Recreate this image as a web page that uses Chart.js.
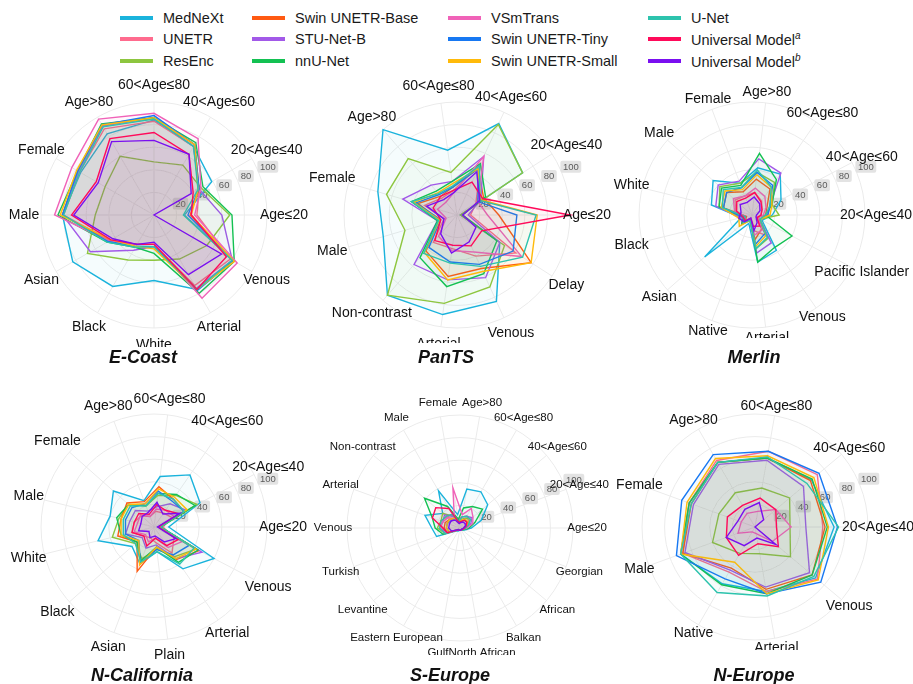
<!DOCTYPE html>
<html>
<head>
<meta charset="utf-8">
<script src="https://cdn.jsdelivr.net/npm/chart.js@4.4.0/dist/chart.umd.min.js"></script>
<style>
  body { margin: 0; background: #fff; font-family: "Liberation Sans", Arial, sans-serif; }
  #page { position: relative; width: 913px; height: 684px; overflow: hidden; }
  .panel { position: absolute; }
  .title { position: absolute; font-weight: bold; font-style: italic; font-size: 18px; color: #111;
           transform: translate(-50%, -50%); white-space: nowrap; }
  .leg { position: absolute; font-size: 14.5px; color: #1a1a1a; white-space: nowrap; transform: translateY(-50%); }
  .leg sup { font-size: 10px; font-style: italic; }
  .sw { position: absolute; width: 33px; height: 4px; transform: translateY(-50%); }
</style>
</head>
<body>
<div id="page"></div>
<script>
const MODELS = ["MedNeXt", "UNETR", "ResEnc", "Swin UNETR-Base", "STU-Net-B", "nnU-Net",
  "VSmTrans", "Swin UNETR-Tiny", "Swin UNETR-Small", "U-Net", "Universal Model", "Universal Model"];
const MODEL_SUP = ["", "", "", "", "", "", "", "", "", "", "a", "b"];
const COLORS = ["#1AB3DC", "#FF6B8E", "#8DC63F", "#FF5A12", "#A259E8", "#13C152",
  "#F062B8", "#1778F2", "#FFBA0A", "#2DC3AD", "#FF0A5A", "#7A0FF0"];
const TICKS = [20, 40, 60, 80, 100];

// axes listed counter-clockwise starting at 3 o'clock; value rows follow MODELS order
const ECOAST_AXES = ["Age≤20", "20<Age≤40", "40<Age≤60", "60<Age≤80", "Age>80", "Female", "Male",
  "Asian", "Black", "White", "Arterial", "Venous"];
const ECOAST = [
  [27, 59, 70, 84, 83, 75, 81, 83, 73, 58, 76, 80],
  [38, 46, 70, 83, 88, 76, 80, 45, 30, 26, 72, 78],
  [67, 48, 51, 47, 60, 50, 52, 68, 46, 40, 45, 54],
  [32, 46, 72, 86, 92, 78, 81, 46, 30, 26, 76, 81],
  [60, 46, 70, 86, 91, 77, 81, 65, 36, 28, 75, 80],
  [69, 50, 74, 86, 93, 78, 85, 48, 33, 34, 80, 82],
  [36, 48, 78, 90, 98, 84, 88, 46, 30, 26, 85, 85],
  [30, 46, 72, 88, 92, 78, 81, 47, 32, 28, 77, 81],
  [33, 45, 72, 86, 92, 79, 83, 44, 32, 30, 76, 82],
  [26, 45, 70, 85, 90, 76, 80, 48, 33, 28, 76, 80],
  [33, 40, 62, 73, 78, 59, 73, 44, 30, 26, 76, 74],
  [0, 38, 62, 66, 75, 57, 71, 42, 30, 24, 61, 69]
];

const PANTS_AXES = ["Age≤20", "20<Age≤40", "40<Age≤60", "60<Age≤80", "Age>80", "Female", "Male",
  "Non-contrast", "Arterial", "Venous", "Delay"];
const PANTS = [
  [3, 69, 89, 58, 100, 73, 68, 94, 89, 84, 45],
  [12, 20, 50, 22, 20, 30, 12, 32, 30, 40, 62],
  [3, 69, 88, 38, 66, 65, 48, 94, 79, 70, 50],
  [37, 28, 45, 25, 22, 36, 16, 42, 55, 52, 78],
  [10, 25, 57, 30, 35, 50, 18, 58, 58, 61, 45],
  [5, 30, 50, 30, 28, 42, 18, 50, 64, 57, 42],
  [27, 22, 57, 20, 15, 18, 10, 25, 32, 36, 68],
  [53, 22, 45, 25, 24, 38, 15, 38, 42, 48, 59],
  [71, 25, 45, 28, 26, 40, 16, 44, 58, 55, 78],
  [70, 24, 48, 26, 25, 42, 17, 45, 43, 50, 69],
  [100, 27, 32, 22, 22, 22, 15, 30, 27, 30, 26],
  [5, 24, 42, 20, 18, 28, 12, 22, 34, 26, 20]
];

const MERLIN_AXES = ["20<Age≤40", "40<Age≤60", "60<Age≤80", "Age>80", "Female", "Male", "White",
  "Black", "Asian", "Native", "Arterial", "Venous", "Pacific Islander"];
const MERLIN = [
  [18, 29, 44, 42, 30, 46, 37, 10, 56, 8, 42, 38, 10],
  [8, 10, 15, 20, 18, 20, 15, 6, 10, 4, 14, 22, 6],
  [24, 20, 35, 38, 30, 38, 30, 6, 12, 5, 30, 25, 8],
  [12, 15, 28, 32, 22, 30, 26, 5, 8, 4, 22, 15, 5],
  [14, 18, 45, 50, 32, 40, 33, 10, 12, 5, 34, 30, 8],
  [12, 20, 38, 55, 28, 36, 30, 8, 12, 4, 42, 35, 40],
  [10, 14, 20, 24, 18, 22, 16, 6, 10, 4, 18, 16, 6],
  [14, 18, 32, 38, 26, 30, 26, 8, 10, 5, 26, 20, 8],
  [16, 20, 30, 36, 24, 32, 28, 12, 15, 5, 28, 22, 8],
  [12, 18, 30, 40, 26, 34, 27, 6, 10, 5, 30, 24, 8],
  [8, 10, 14, 20, 16, 18, 14, 8, 8, 3, 10, 12, 5],
  [4, 8, 12, 16, 12, 14, 10, 12, 9, 3, 14, 8, 4]
];

const NCAL_AXES = ["Age≤20", "20<Age≤40", "40<Age≤60", "60<Age≤80", "Age>80", "Female", "Male",
  "White", "Black", "Asian", "Plain", "Arterial", "Venous"];
const NCAL = [
  [13, 46, 56, 45, 25, 48, 40, 51, 26, 35, 22, 45, 60],
  [8, 18, 15, 14, 10, 15, 18, 20, 12, 10, 14, 28, 20],
  [6, 43, 34, 28, 20, 30, 32, 38, 22, 30, 20, 32, 42],
  [5, 30, 30, 36, 24, 32, 30, 33, 20, 42, 18, 35, 45],
  [5, 32, 25, 18, 15, 22, 22, 26, 14, 20, 16, 34, 48],
  [6, 41, 35, 30, 20, 30, 34, 30, 20, 32, 18, 38, 44],
  [4, 20, 18, 16, 10, 16, 15, 18, 10, 14, 10, 22, 28],
  [5, 30, 28, 32, 22, 26, 26, 26, 18, 34, 20, 30, 35],
  [5, 33, 32, 34, 22, 30, 30, 30, 18, 36, 18, 34, 42],
  [6, 30, 30, 30, 20, 28, 28, 28, 22, 33, 22, 40, 40],
  [4, 25, 18, 20, 12, 18, 18, 20, 12, 18, 10, 20, 24],
  [3, 26, 14, 22, 14, 14, 12, 14, 6, 10, 8, 16, 22]
];

const SEUR_AXES = ["Age≤20", "20<Age≤40", "40<Age≤60", "60<Age≤80", "Age>80", "Female", "Male",
  "Non-contrast", "Arterial", "Venous", "Turkish", "Levantine", "Eastern European", "Gulf",
  "North African", "Balkan", "African", "Georgian"];
const SEUR = [
  [10, 20, 32, 37, 35, 12, 38, 20, 33, 25, 22, 4, 3, 2, 2, 2, 3, 5],
  [5, 8, 10, 12, 10, 8, 14, 15, 18, 16, 12, 3, 2, 2, 2, 2, 2, 3],
  [4, 8, 12, 10, 8, 6, 12, 20, 18, 20, 14, 3, 2, 2, 2, 2, 2, 3],
  [4, 6, 8, 8, 6, 5, 10, 12, 14, 14, 12, 3, 2, 2, 2, 2, 2, 3],
  [5, 10, 14, 12, 10, 6, 12, 18, 16, 18, 12, 3, 2, 2, 2, 2, 2, 3],
  [8, 14, 26, 22, 18, 8, 22, 41, 26, 22, 16, 3, 2, 2, 2, 2, 2, 4],
  [6, 12, 15, 20, 12, 36, 10, 14, 16, 18, 14, 3, 2, 2, 2, 2, 2, 3],
  [4, 6, 8, 8, 6, 5, 9, 10, 12, 12, 10, 2, 2, 2, 2, 2, 2, 3],
  [4, 7, 9, 9, 7, 5, 10, 12, 12, 12, 10, 2, 2, 2, 2, 2, 2, 3],
  [5, 8, 12, 12, 10, 6, 14, 16, 18, 18, 14, 3, 2, 2, 2, 2, 2, 3],
  [4, 6, 8, 8, 6, 5, 20, 28, 26, 15, 12, 3, 2, 2, 2, 2, 2, 3],
  [3, 5, 6, 6, 5, 4, 8, 10, 10, 10, 8, 2, 2, 2, 2, 2, 2, 2]
];

const NEUR_AXES = ["20<Age≤40", "40<Age≤60", "60<Age≤80", "Age>80", "Female", "Male", "Native",
  "Arterial", "Venous"];
const NEUR = [
  [70, 65, 62, 66, 62, 70, 58, 58, 70],
  [60, 72, 68, 68, 62, 68, 46, 58, 72],
  [31, 40, 35, 35, 34, 40, 27, 24, 41],
  [62, 64, 62, 66, 60, 68, 42, 56, 66],
  [45, 56, 60, 64, 58, 66, 44, 54, 63],
  [64, 66, 62, 66, 62, 70, 59, 60, 66],
  [32, 24, 14, 14, 13, 16, 5, 6, 20],
  [73, 74, 68, 74, 69, 74, 53, 60, 76],
  [65, 68, 64, 70, 64, 70, 36, 60, 73],
  [74, 60, 63, 66, 60, 70, 67, 62, 68],
  [19, 24, 26, 22, 26, 27, 29, 15, 27],
  [0, 10, 22, 18, 16, 27, 19, 10, 24]
];

// panel placement on the page (px)
const PANELS = [
  { name: "E-Coast", axes: ECOAST_AXES, rows: ECOAST, left: 0, top: 62, w: 310, h: 285, cx: 154, cy: 215, labelR: 130, font: 14, tx: 143, ty: 357 },
  { name: "PanTS", axes: PANTS_AXES, rows: PANTS, left: 295, top: 62, w: 330, h: 281, cx: 457, cy: 215, labelR: 130, font: 14, tx: 446, ty: 357 },
  { name: "Merlin", axes: MERLIN_AXES, rows: MERLIN, left: 600, top: 62, w: 313, h: 276, cx: 752, cy: 215, labelR: 124, font: 14, tx: 754, ty: 357 },
  { name: "N-California", axes: NCAL_AXES, rows: NCAL, left: 0, top: 375, w: 310, h: 285, cx: 154, cy: 527, labelR: 129, font: 14, tx: 142, ty: 675 },
  { name: "S-Europe", axes: SEUR_AXES, rows: SEUR, left: 300, top: 375, w: 325, h: 280, cx: 460, cy: 528, labelR: 127, font: 11.5, tx: 450, ty: 675 },
  { name: "N-Europe", axes: NEUR_AXES, rows: NEUR, left: 605, top: 375, w: 308, h: 275, cx: 755, cy: 527, labelR: 123, font: 14, tx: 754, ty: 675 }
];
const RING = 113;

const page = document.getElementById("page");

function rgba(hex, a) {
  const n = parseInt(hex.slice(1), 16);
  return `rgba(${n >> 16},${(n >> 8) & 255},${n & 255},${a})`;
}
// chart.js goes clockwise from the top, the reference goes counter-clockwise from the right
function ccw(arr) {
  return arr.map((_, j) => arr[(arr.length - j) % arr.length]);
}

// legend
MODELS.forEach((m, i) => {
  const col = Math.floor(i / 3), row = i % 3;
  const x = [120, 252, 448, 648][col], y = [18, 39, 61][row];
  const sw = document.createElement("div");
  sw.className = "sw";
  sw.style.left = x + "px";
  sw.style.top = y + "px";
  sw.style.background = COLORS[i];
  page.appendChild(sw);
  const t = document.createElement("div");
  t.className = "leg";
  t.style.left = (x + 43) + "px";
  t.style.top = y + "px";
  t.innerHTML = m + (MODEL_SUP[i] ? "<sup>" + MODEL_SUP[i] + "</sup>" : "");
  page.appendChild(t);
});

const radarText = {
  id: "radarText",
  beforeDatasetsDraw(chart) {
    const r = chart.scales.r, ctx = chart.ctx;
    const a = 23 * Math.PI / 180;
    ctx.save();
    ctx.font = '9.5px "Liberation Sans", Arial, sans-serif';
    ctx.textAlign = "center";
    ctx.textBaseline = "middle";
    TICKS.forEach((v) => {
      const d = r.getDistanceFromCenterForValue(v) * 1.05 + 5;
      const x = r.xCenter + d * Math.cos(a), y = r.yCenter - d * Math.sin(a);
      const w = ctx.measureText(String(v)).width + 5;
      ctx.fillStyle = "#e3e3e3";
      ctx.beginPath();
      ctx.roundRect(x - w / 2, y - 6, w, 12, 2);
      ctx.fill();
      ctx.fillStyle = "#5a5a5a";
      ctx.fillText(String(v), x, y + 0.5);
    });
    ctx.restore();
  },
  afterDraw(chart, args, opts) {
    const r = chart.scales.r, ctx = chart.ctx;
    ctx.save();
    ctx.font = opts.font + 'px "Liberation Sans", Arial, sans-serif';
    ctx.fillStyle = "#111";
    ctx.textAlign = "center";
    ctx.textBaseline = "middle";
    chart.data.labels.forEach((lab, j) => {
      const p = r.getPointPosition(j, opts.labelR);
      ctx.fillText(lab, p.x, p.y);
    });
    ctx.restore();
  }
};

PANELS.forEach((p) => {
  const canvas = document.createElement("canvas");
  canvas.className = "panel";
  canvas.width = p.w;
  canvas.height = p.h;
  canvas.style.left = p.left + "px";
  canvas.style.top = p.top + "px";
  canvas.style.width = p.w + "px";
  canvas.style.height = p.h + "px";
  page.appendChild(canvas);

  const lx = p.cx - p.left, ly = p.cy - p.top;

  new Chart(canvas, {
    type: "radar",
    data: {
      labels: ccw(p.axes),
      datasets: p.rows.map((row, i) => ({
        label: MODELS[i] + MODEL_SUP[i],
        data: ccw(row),
        borderColor: COLORS[i],
        backgroundColor: rgba(COLORS[i], 0.045),
        borderWidth: 1.4,
        fill: true,
        order: MODELS.length - i
      }))
    },
    options: {
      responsive: false,
      animation: false,
      layout: {
        padding: { left: lx - RING, right: p.w - lx - RING, top: ly - RING, bottom: p.h - ly - RING }
      },
      elements: { line: { tension: 0 }, point: { radius: 0, hoverRadius: 0 } },
      plugins: {
        legend: { display: false },
        tooltip: { enabled: false },
        radarText: { font: p.font, labelR: p.labelR }
      },
      scales: {
        r: {
          min: 0,
          max: 100,
          startAngle: 90,
          ticks: { display: false, stepSize: 20 },
          grid: { color: "#ebebeb", lineWidth: 1, circular: true },
          angleLines: { color: "#ebebeb", lineWidth: 1 },
          pointLabels: { display: false }
        }
      }
    },
    plugins: [radarText]
  });

  const t = document.createElement("div");
  t.className = "title";
  t.style.left = p.tx + "px";
  t.style.top = p.ty + "px";
  t.textContent = p.name;
  page.appendChild(t);
});
</script>
</body>
</html>
